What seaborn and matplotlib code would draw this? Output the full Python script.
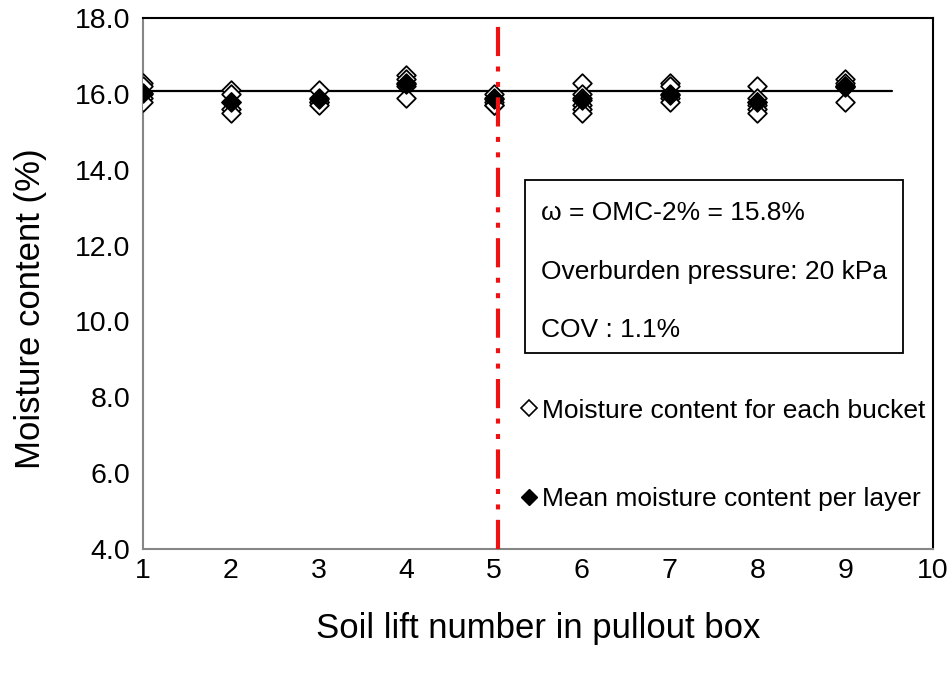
import matplotlib
matplotlib.use("Agg")
import matplotlib.pyplot as plt
from matplotlib.lines import Line2D
from matplotlib.patches import Rectangle
import seaborn as sns
import pandas as pd
import numpy as np

# ---- data ----
lifts = [1, 2, 3, 4, 5, 6, 7, 8, 9]
bucket_lift1 = [16.3, 16.2, 16.0, 15.9, 15.8]
bucket_lift2 = [16.1, 16.0, 15.8, 15.6, 15.5]
bucket_lift3 = [16.1, 15.9, 15.8, 15.8, 15.7]
bucket_lift4 = [16.5, 16.4, 16.3, 16.2, 15.9]
bucket_lift5 = [16.0, 15.9, 15.8, 15.7, 15.7]
bucket_lift6 = [16.3, 16.0, 15.9, 15.7, 15.6, 15.5]
bucket_lift7 = [16.3, 16.2, 16.0, 15.9, 15.8]
bucket_lift8 = [16.2, 15.9, 15.8, 15.7, 15.6, 15.5]
bucket_lift9 = [16.4, 16.3, 16.2, 16.2, 15.8]
mean_per_layer = [16.03, 15.80, 15.86, 16.26, 15.88, 15.85, 15.98, 15.78, 16.18]
overall_mean = 16.08
overall_mean_x = [1, 9.53]
separator_x = 5.05

bucket_sets = [bucket_lift1, bucket_lift2, bucket_lift3, bucket_lift4, bucket_lift5,
               bucket_lift6, bucket_lift7, bucket_lift8, bucket_lift9]
rows = []
for lift, vals in zip(lifts, bucket_sets):
    for v in vals:
        rows.append({"lift": lift, "mc": v})
df_bucket = pd.DataFrame(rows)
df_mean = pd.DataFrame({"lift": lifts, "mc": mean_per_layer})

x_ticks = list(range(1, 11))
y_ticks = [4.0, 6.0, 8.0, 10.0, 12.0, 14.0, 16.0, 18.0]

# ---- figure ----
sns.set_style("white")
plt.rcParams['font.family'] = ['Liberation Sans', 'DejaVu Sans']
plt.rcParams['text.color'] = 'black'
plt.rcParams['axes.labelcolor'] = 'black'
plt.rcParams['xtick.labelcolor'] = 'black'
plt.rcParams['ytick.labelcolor'] = 'black'

fig = plt.figure(figsize=(9.53, 6.75), dpi=100)
ax = fig.add_axes([0.150, 0.187, 0.829, 0.786])

ax.plot(overall_mean_x, [overall_mean, overall_mean], color='black', lw=1.6, zorder=2)

sns.scatterplot(data=df_bucket, x="lift", y="mc", marker='D', s=90,
                facecolor='white', edgecolor='black', linewidth=1.3, ax=ax, zorder=3)
sns.scatterplot(data=df_mean, x="lift", y="mc", marker='D', s=95,
                color='black', edgecolor='black', linewidth=1.0, ax=ax, zorder=4)

ax.axvline(separator_x, color='#ee1111', lw=3, linestyle=(0, (7, 2.5, 1.2, 2.5, 1.2, 2.5)), zorder=5)

ax.set_xlim(1, 10)
ax.set_ylim(4, 18)
ax.set_xticks(x_ticks)
ax.set_xticklabels([str(t) for t in x_ticks])
ax.set_yticks(y_ticks)
ax.set_yticklabels([f"{t:.1f}" for t in y_ticks])
ax.tick_params(axis='both', which='major', labelsize=20.5, direction='out', length=5,
               width=1.2, color='#868686', labelcolor='black')
ax.tick_params(axis='y', pad=4)
ax.tick_params(axis='x', pad=2)

ax.set_xlabel("Soil lift number in pullout box", fontsize=25, labelpad=20, color='black')
ax.set_ylabel("Moisture content (%)", fontsize=25, color='black')
ax.yaxis.set_label_coords(-0.122, 0.452)

for side in ['left', 'bottom']:
    ax.spines[side].set_color('#868686')
    ax.spines[side].set_linewidth(1.5)
for side in ['top', 'right']:
    ax.spines[side].set_color('black')
    ax.spines[side].set_linewidth(1.5)
    ax.spines[side].set_visible(True)

# text box
box = Rectangle((0.484, 0.369), 0.478, 0.326, transform=ax.transAxes,
                fill=True, facecolor='white', edgecolor='black', lw=1.3, zorder=6)
ax.add_patch(box)
ax.text(0.504, 0.633, "ω = OMC-2% = 15.8%", transform=ax.transAxes, fontsize=19,
        va='center', ha='left', zorder=7, color='black')
ax.text(0.504, 0.522, "Overburden pressure: 20 kPa", transform=ax.transAxes, fontsize=19,
        va='center', ha='left', zorder=7, color='black')
ax.text(0.504, 0.412, "COV : 1.1%", transform=ax.transAxes, fontsize=19,
        va='center', ha='left', zorder=7, color='black')

handles = [
    Line2D([], [], marker='D', markersize=8, markerfacecolor='white', markeredgecolor='black',
           markeredgewidth=1.2, linestyle='none', label='Moisture content for each bucket'),
    Line2D([], [], marker='D', markersize=8, markerfacecolor='black', markeredgecolor='black',
           linestyle='none', label='Mean moisture content per layer'),
]
leg = ax.legend(handles=handles, loc='upper left', bbox_to_anchor=(0.478, 0.283),
                frameon=False, fontsize=19, handlelength=0.6, handletextpad=0.2,
                labelspacing=2.45, borderaxespad=0, borderpad=0, labelcolor='black')

fig.savefig("out.png", dpi=100)
